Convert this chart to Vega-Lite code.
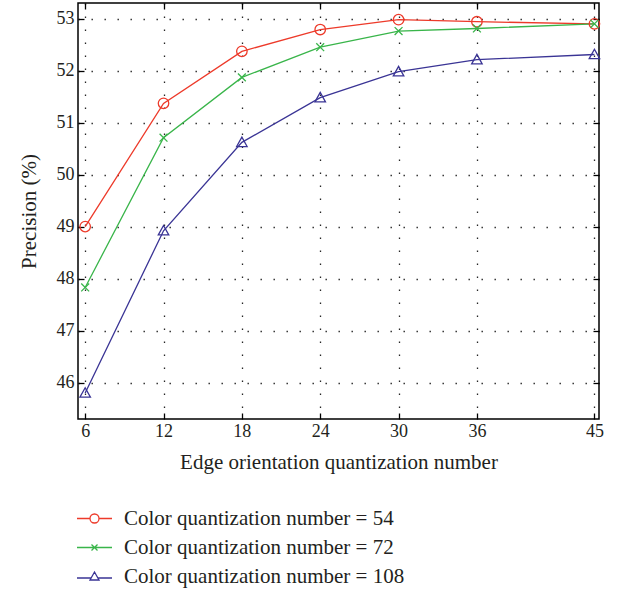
{
  "$schema": "https://vega.github.io/schema/vega-lite/v6.json",
  "autosize": "none",
  "width": 521,
  "height": 416,
  "padding": {"left": 78, "top": 3, "right": 20, "bottom": 171},
  "background": "white",
  "config": {
    "font": "Liberation Serif",
    "view": {"stroke": "black", "strokeWidth": 1.5},
    "axis": {
      "labelFont": "Liberation Serif",
      "titleFont": "Liberation Serif",
      "labelColor": "#231f20",
      "titleColor": "#231f20",
      "titleFontWeight": "normal",
      "domain": false,
      "tickColor": "black",
      "tickWidth": 1.3,
      "tickSize": -6
    }
  },
  "data": {
    "values": [
      {"series": "Color quantization number = 54", "edge": 6, "precision": 49.0},
      {"series": "Color quantization number = 54", "edge": 12, "precision": 51.37},
      {"series": "Color quantization number = 54", "edge": 18, "precision": 52.37},
      {"series": "Color quantization number = 54", "edge": 24, "precision": 52.79},
      {"series": "Color quantization number = 54", "edge": 30, "precision": 52.98},
      {"series": "Color quantization number = 54", "edge": 36, "precision": 52.94},
      {"series": "Color quantization number = 54", "edge": 45, "precision": 52.9},
      {"series": "Color quantization number = 72", "edge": 6, "precision": 47.83},
      {"series": "Color quantization number = 72", "edge": 12, "precision": 50.71},
      {"series": "Color quantization number = 72", "edge": 18, "precision": 51.87},
      {"series": "Color quantization number = 72", "edge": 24, "precision": 52.45},
      {"series": "Color quantization number = 72", "edge": 30, "precision": 52.76},
      {"series": "Color quantization number = 72", "edge": 36, "precision": 52.81},
      {"series": "Color quantization number = 72", "edge": 45, "precision": 52.9},
      {"series": "Color quantization number = 108", "edge": 6, "precision": 45.8},
      {"series": "Color quantization number = 108", "edge": 12, "precision": 48.92},
      {"series": "Color quantization number = 108", "edge": 18, "precision": 50.62},
      {"series": "Color quantization number = 108", "edge": 24, "precision": 51.48},
      {"series": "Color quantization number = 108", "edge": 30, "precision": 51.98},
      {"series": "Color quantization number = 108", "edge": 36, "precision": 52.21},
      {"series": "Color quantization number = 108", "edge": 45, "precision": 52.31}
    ]
  },
  "layer": [
    {
      "mark": {"type": "line", "strokeWidth": 1.3},
      "encoding": {
        "x": {
          "field": "edge",
          "type": "quantitative",
          "scale": {"domain": [5.45, 45.35], "nice": false, "zero": false},
          "axis": {
            "orient": "bottom",
            "values": [6, 12, 18, 24, 30, 36, 45],
            "title": "Edge orientation quantization number",
            "labelFontSize": 18,
            "titleFontSize": 21,
            "labelPadding": 9,
            "titlePadding": 11,
            "grid": true,
            "gridColor": "black",
            "gridDash": [1.4, 11.6],
            "gridWidth": 1.3,
            "gridOpacity": 0.85
          }
        },
        "y": {
          "field": "precision",
          "type": "quantitative",
          "scale": {"domain": [45.3, 53.3], "nice": false, "zero": false},
          "axis": {
            "orient": "left",
            "values": [46, 47, 48, 49, 50, 51, 52, 53],
            "title": "Precision (%)",
            "labelFontSize": 18,
            "titleFontSize": 21,
            "labelPadding": 10,
            "titlePadding": 17,
            "grid": true,
            "gridColor": "black",
            "gridDash": [1.4, 11.6],
            "gridWidth": 1.3,
            "gridOpacity": 0.85
          }
        },
        "color": {
          "field": "series",
          "type": "nominal",
          "scale": {
            "domain": ["Color quantization number = 54", "Color quantization number = 72", "Color quantization number = 108"],
            "range": ["#ED3A2A", "#39B54A", "#3A3495"]
          },
          "legend": null
        }
      }
    },
    {
      "mark": {"type": "point", "filled": false, "size": 110, "strokeWidth": 1.3, "opacity": 1},
      "encoding": {
        "x": {"field": "edge", "type": "quantitative", "axis": null},
        "y": {"field": "precision", "type": "quantitative", "axis": null},
        "color": {
          "field": "series",
          "type": "nominal",
          "scale": {
            "domain": ["Color quantization number = 54", "Color quantization number = 72", "Color quantization number = 108"],
            "range": ["#ED3A2A", "#39B54A", "#3A3495"]
          },
          "legend": null
        },
        "shape": {
          "field": "series",
          "type": "nominal",
          "scale": {
            "domain": ["Color quantization number = 54", "Color quantization number = 72", "Color quantization number = 108"],
            "range": [
              "M1,0A1,1 0 1,1 -1,0A1,1 0 1,1 1,0Z",
              "M-0.75,-0.75L0.75,0.75M-0.75,0.75L0.75,-0.75",
              "M0,-1L1,0.8L-1,0.8Z"
            ]
          },
          "legend": null
        }
      }
    },
    {
      "transform": [{"filter": "datum.edge == 6"}],
      "mark": {"type": "point", "filled": false, "size": 100, "strokeWidth": 1.3, "opacity": 0},
      "encoding": {
        "x": {"field": "edge", "type": "quantitative", "axis": null},
        "y": {"field": "precision", "type": "quantitative", "axis": null},
        "color": {
          "field": "series",
          "type": "nominal",
          "scale": {
            "domain": ["Color quantization number = 54", "Color quantization number = 72", "Color quantization number = 108"],
            "range": ["#ED3A2A", "#39B54A", "#3A3495"]
          },
          "legend": {
            "orient": "none",
            "legendX": 6,
            "legendY": 505,
            "title": null,
            "padding": 0,
            "labelFont": "Liberation Serif",
            "labelFontSize": 21,
            "labelColor": "#231f20",
            "labelOffset": 19,
            "labelLimit": 400,
            "rowPadding": 7,
            "symbolOpacity": 1,
            "symbolStrokeWidth": 1.3,
            "symbolFillColor": "transparent"
          }
        },
        "shape": {
          "field": "series",
          "type": "nominal",
          "scale": {
            "domain": ["Color quantization number = 54", "Color quantization number = 72", "Color quantization number = 108"],
            "range": [
              "M-3.5,0H-0.9M0.9,0H3.5M0.9,0A0.9,0.9 0 1,1 -0.9,0A0.9,0.9 0 1,1 0.9,0Z",
              "M-3.5,0H3.5M-0.6,-0.6L0.6,0.6M-0.6,0.6L0.6,-0.6",
              "M-3.5,0.3H-0.68M0.68,0.3H3.5M0,-0.9L0.9,0.7L-0.9,0.7Z"
            ]
          },
          "legend": {
            "orient": "none",
            "legendX": 6,
            "legendY": 505,
            "title": null,
            "padding": 0,
            "labelFont": "Liberation Serif",
            "labelFontSize": 21,
            "labelColor": "#231f20",
            "labelOffset": 19,
            "labelLimit": 400,
            "rowPadding": 7,
            "symbolOpacity": 1,
            "symbolStrokeWidth": 1.3,
            "symbolFillColor": "transparent"
          }
        }
      }
    },
    {
      "mark": {"type": "rule", "opacity": 0},
      "encoding": {
        "x": {
          "field": "edge",
          "type": "quantitative",
          "axis": {"orient": "top", "values": [6, 12, 18, 24, 30, 36, 45], "labels": false, "title": null, "grid": false}
        },
        "y": {
          "field": "precision",
          "type": "quantitative",
          "axis": {"orient": "right", "values": [46, 47, 48, 49, 50, 51, 52, 53], "labels": false, "title": null, "grid": false}
        }
      }
    }
  ],
  "resolve": {
    "scale": {"shape": "independent", "color": "independent"},
    "axis": {"x": "independent", "y": "independent"}
  }
}
